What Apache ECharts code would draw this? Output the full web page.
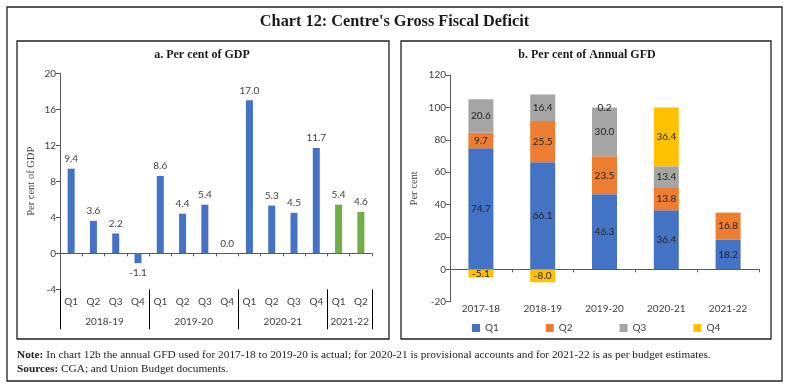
<!DOCTYPE html>
<html><head><meta charset="utf-8">
<script src="https://cdn.jsdelivr.net/npm/echarts/dist/echarts.min.js"></script>
<style>html,body{margin:0;padding:0;background:#fff}#c{width:789px;height:389px}</style>
</head><body><div id="c"></div>
<script>
// ---- Data: panel a (per cent of GDP) ----
const quarterLabels = ['Q1','Q2','Q3','Q4','Q1','Q2','Q3','Q4','Q1','Q2','Q3','Q4','Q1','Q2'];
const yearGroups = ['2018-19','2019-20','2020-21','2021-22'];
const yearGroupSizes = [4, 4, 4, 2];
const gdpValues = [9.4, 3.6, 2.2, -1.1, 8.6, 4.4, 5.4, 0.0, 17.0, 5.3, 4.5, 11.7, 5.4, 4.6];
const gdpTicks = [-4, 0, 4, 8, 12, 16, 20];

// ---- Data: panel b (per cent of annual GFD) ----
const gfdYears = ['2017-18','2018-19','2019-20','2020-21','2021-22'];
const gfdQ1 = [74.7, 66.1, 46.3, 36.4, 18.2];
const gfdQ2 = [9.7, 25.5, 23.5, 13.8, 16.8];
const gfdQ3 = [20.6, 16.4, 30.0, 13.4, null];
const gfdQ4 = [-5.1, -8.0, 0.2, 36.4, null];
const gfdTicks = [-20, 0, 20, 40, 60, 80, 100, 120];

// ---- Build helper structures ----
const BLUE = '#4472C4', ORANGE = '#ED7D31', GREY = '#A5A5A5', GOLD = '#FFC000', GREEN = '#70AD47';
const FONT = 'Lato';
const SERIF = 'Liberation Serif';
const TXT = '#404040';

// year axis with boundaryGap false: points at category boundaries
const yearAxisData = [];
const boundaryIdx = [0];
{
  let n = quarterLabels.length;
  for (let i = 0; i <= n; i++) yearAxisData.push('');
  let start = 0;
  yearGroups.forEach((y, k) => {
    const sz = yearGroupSizes[k];
    yearAxisData[start + sz / 2] = y;
    start += sz;
    boundaryIdx.push(start);
  });
}
const groupOfIndex = [];
yearGroupSizes.forEach((sz, k) => { for (let i = 0; i < sz; i++) groupOfIndex.push(k); });

const gdpData = gdpValues.map((v, i) => ({
  value: v,
  itemStyle: { color: groupOfIndex[i] === 3 ? GREEN : BLUE },
  label: { position: v < 0 ? 'bottom' : 'top' }
}));

const chart = echarts.init(document.getElementById('c'), null, { renderer: 'canvas' });

const axisLineStyle = { color: '#595959', width: 1 };
const labelStyle = { color: TXT, fontFamily: FONT, fontSize: 10 };

function stackSeries(name, data, color) {
  return {
    name, type: 'bar', stack: 'gfd', xAxisIndex: 3, yAxisIndex: 1,
    data, barWidth: 25, itemStyle: { color },
    label: { show: true, position: 'inside', color: '#262626', fontFamily: FONT, fontSize: 10,
      formatter: p => (p.value == null ? '' : Number(p.value).toFixed(1)) }
  };
}

chart.setOption({
  animation: false,
  backgroundColor: '#fff',
  textStyle: { fontFamily: FONT },
  grid: [
    { left: 60, top: 73.3, width: 312, height: 216, outerBoundsMode: 'none', containLabel: false },
    { left: 450, top: 75, width: 309, height: 226.7, outerBoundsMode: 'none', containLabel: false }
  ],
  xAxis: [
    { // zero line, panel a
      type: 'category', gridIndex: 0, data: quarterLabels, position: 'bottom',
      axisLine: { onZero: true, lineStyle: axisLineStyle },
      axisTick: { show: true, interval: 0, length: 3, lineStyle: axisLineStyle },
      axisLabel: { show: false }, splitLine: { show: false }
    },
    { // quarter labels, panel a
      type: 'category', gridIndex: 0, data: quarterLabels, position: 'bottom',
      axisLine: { show: false, onZero: false }, axisTick: { show: false },
      axisLabel: Object.assign({ interval: 0, margin: 7 }, labelStyle), splitLine: { show: false }
    },
    { // year labels + separators, panel a
      type: 'category', gridIndex: 0, data: yearAxisData, position: 'bottom', boundaryGap: false,
      axisLine: { show: false, onZero: false },
      axisTick: { show: true, length: 40, interval: (i) => boundaryIdx.indexOf(i) >= 0,
        lineStyle: { color: '#000', width: 1 } },
      axisLabel: Object.assign({ interval: 0, margin: 27 }, labelStyle), splitLine: { show: false }
    },
    { // zero line, panel b
      type: 'category', gridIndex: 1, data: gfdYears, position: 'bottom',
      axisLine: { onZero: true, lineStyle: axisLineStyle },
      axisTick: { show: true, interval: 0, length: 3, lineStyle: axisLineStyle },
      axisLabel: { show: false }, splitLine: { show: false }
    },
    { // year labels, panel b
      type: 'category', gridIndex: 1, data: gfdYears, position: 'bottom',
      axisLine: { show: false, onZero: false }, axisTick: { show: false },
      axisLabel: Object.assign({ interval: 0, margin: 2 }, labelStyle), splitLine: { show: false }
    }
  ],
  yAxis: [
    {
      type: 'value', gridIndex: 0, min: gdpTicks[0], max: gdpTicks[gdpTicks.length - 1], interval: 4,
      name: 'Per cent of GDP', nameLocation: 'middle', nameGap: 23, nameRotate: 90,
      nameTextStyle: { color: TXT, fontFamily: SERIF, fontSize: 10.5 },
      axisLine: { show: true, lineStyle: axisLineStyle },
      axisTick: { show: true, length: 4, lineStyle: axisLineStyle },
      axisLabel: Object.assign({ margin: 4 }, labelStyle), splitLine: { show: false }
    },
    {
      type: 'value', gridIndex: 1, min: gfdTicks[0], max: gfdTicks[gfdTicks.length - 1], interval: 20,
      name: 'Per cent', nameLocation: 'middle', nameGap: 30, nameRotate: 90,
      nameTextStyle: { color: TXT, fontFamily: SERIF, fontSize: 10.5 },
      axisLine: { show: true, lineStyle: axisLineStyle },
      axisTick: { show: true, length: 4, lineStyle: axisLineStyle },
      axisLabel: Object.assign({ margin: 4 }, labelStyle), splitLine: { show: false }
    }
  ],
  legend: {
    data: ['Q1','Q2','Q3','Q4'], left: 467, top: 318, itemWidth: 8, itemHeight: 8, itemGap: 47,
    icon: 'rect', textStyle: { color: TXT, fontFamily: FONT, fontSize: 10 }, selectedMode: false
  },
  series: [
    {
      type: 'bar', xAxisIndex: 0, yAxisIndex: 0, data: gdpData, barWidth: 7,
      label: { show: true, color: TXT, fontFamily: FONT, fontSize: 10, distance: 5,
        formatter: p => Number(p.value).toFixed(1) }
    },
    stackSeries('Q1', gfdQ1, BLUE),
    stackSeries('Q2', gfdQ2, ORANGE),
    stackSeries('Q3', gfdQ3, GREY),
    stackSeries('Q4', gfdQ4, GOLD)
  ],
  graphic: [
    { type: 'rect', shape: { x: 7, y: 7, width: 775, height: 374 }, style: { fill: 'none', stroke: '#222', lineWidth: 1.3 }, silent: true },
    { type: 'rect', shape: { x: 17, y: 41, width: 372, height: 298 }, style: { fill: 'none', stroke: '#222', lineWidth: 1.3 }, silent: true },
    { type: 'rect', shape: { x: 401, y: 41, width: 370, height: 298 }, style: { fill: 'none', stroke: '#222', lineWidth: 1.3 }, silent: true },
    { type: 'text', x: 394.5, y: 22, style: { text: "Chart 12: Centre's Gross Fiscal Deficit", fill: '#1a1a1a',
        font: 'bold 16.3px "Liberation Serif"', textAlign: 'center', textVerticalAlign: 'middle' } },
    { type: 'text', x: 202, y: 55, style: { text: 'a. Per cent of GDP', fill: '#1a1a1a',
        font: 'bold 12px "Liberation Serif"', textAlign: 'center', textVerticalAlign: 'middle' } },
    { type: 'text', x: 587, y: 55, style: { text: 'b. Per cent of Annual GFD', fill: '#1a1a1a',
        font: 'bold 12px "Liberation Serif"', textAlign: 'center', textVerticalAlign: 'middle' } },
    { type: 'text', x: 17, y: 355, style: {
        text: '{b|Note:} In chart 12b the annual GFD used for 2017-18 to 2019-20 is actual; for 2020-21 is provisional accounts and for 2021-22 is as per budget estimates.',
        fill: '#222', font: '11.3px "Liberation Serif"', textVerticalAlign: 'middle',
        rich: { b: { fontWeight: 'bold', fontFamily: 'Liberation Serif', fontSize: 11.3, fill: '#222' } } } },
    { type: 'text', x: 17, y: 369, style: {
        text: '{b|Sources:} CGA; and Union Budget documents.',
        fill: '#222', font: '11.3px "Liberation Serif"', textVerticalAlign: 'middle',
        rich: { b: { fontWeight: 'bold', fontFamily: 'Liberation Serif', fontSize: 11.3, fill: '#222' } } } }
  ]
});
</script>
</body></html>
